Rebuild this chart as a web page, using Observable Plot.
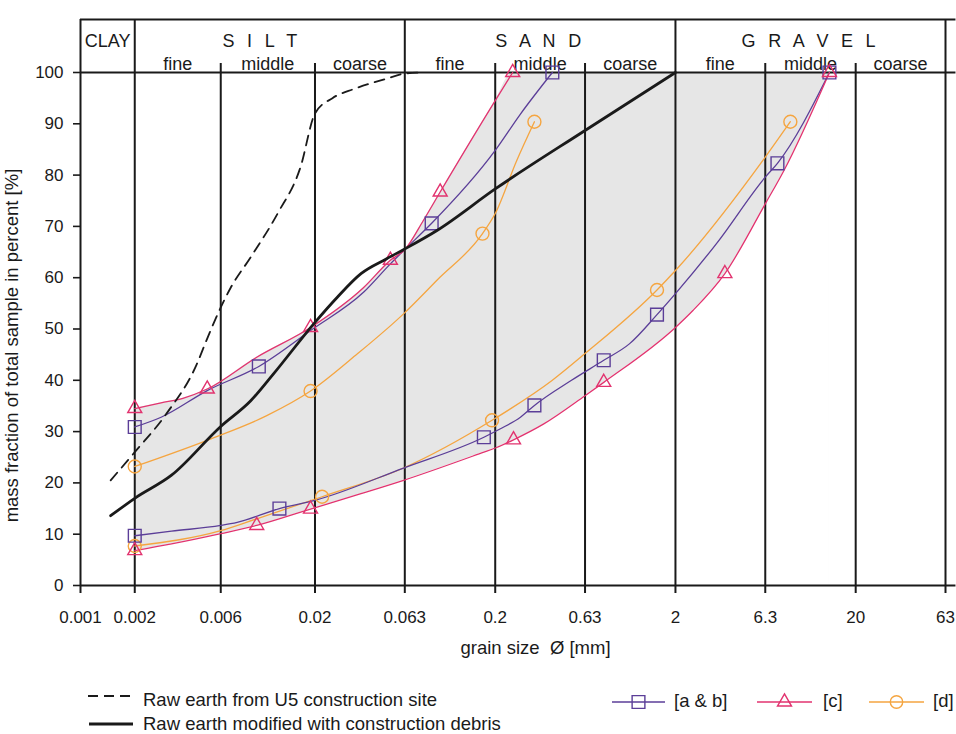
<!DOCTYPE html>
<html><head><meta charset="utf-8">
<script src="https://cdn.jsdelivr.net/npm/d3@7"></script>
<script src="https://cdn.jsdelivr.net/npm/@observablehq/plot@0.6"></script>
<style>
body{margin:0;background:#fff;font-family:"Liberation Sans",Arial,sans-serif;}
#wrap{position:relative;width:956px;height:734px;overflow:hidden;background:#fff;}
</style></head><body><div id="wrap"></div>
<script>
// ---------- data ----------
const xTicks = [0.001, 0.002, 0.006, 0.02, 0.063, 0.2, 0.63, 2, 6.3, 20, 63];
const xTickLabels = ["0.001", "0.002", "0.006", "0.02", "0.063", "0.2", "0.63", "2", "6.3", "20", "63"];
const yTicks = [0, 10, 20, 30, 40, 50, 60, 70, 80, 90, 100];
const majorBounds = [0.001, 0.002, 0.063, 2, 63];
const minorBounds = [0.006, 0.02, 0.2, 0.63, 6.3, 20];
const mainClasses = ["CLAY", "S I L T", "S A N D", "G R A V E L"];
const mainBounds = [0.001, 0.002, 0.063, 2, 63];
const subClasses = ["fine", "middle", "coarse"];
const subBounds = [0.002, 0.006, 0.02, 0.063, 0.2, 0.63, 2, 6.3, 20, 63];

const yTitle = "mass fraction of total sample in percent [%]";
const xTitle = "grain size\u00a0 Ø [mm]";
const lineLabels = ["Raw earth from U5 construction site", "Raw earth modified with construction debris"];
const sampleLabels = ["[a & b]", "[c]", "[d]"];

// Raw earth from U5 construction site (dashed)
const u5Size = [0.00147, 0.002, 0.003, 0.0044, 0.005, 0.006, 0.0068, 0.0088, 0.0124, 0.0166, 0.02, 0.025, 0.033, 0.05, 0.063, 0.08];
const u5Pct  = [20.5, 26, 33.5, 43, 47.8, 54.2, 58, 64, 72.5, 81.5, 92, 95, 96.8, 98.8, 99.8, 100];
// Raw earth modified with construction debris (solid)
const modSize = [0.00147, 0.002, 0.0032, 0.006, 0.0088, 0.0118, 0.02, 0.0266, 0.036, 0.05, 0.063, 0.095, 0.2, 0.63, 2];
const modPct  = [13.6, 17, 21.5, 31, 36, 41.3, 51.3, 56.2, 60.8, 63.7, 65.6, 69.2, 77.3, 88.7, 100];

// [a & b] fine limit / coarse limit
const abUpSize = [0.002, 0.0028, 0.00505, 0.00976, 0.0189, 0.0373, 0.0524, 0.0635, 0.0888, 0.2, 0.276, 0.415];
const abUpPct  = [30.9, 32.8, 38, 42.7, 49.7, 57.2, 62.7, 65.6, 70.6, 84.8, 91.9, 100];
const abUpMarks = [0, 3, 8, 11];
const abLoSize = [0.002, 0.0032, 0.006, 0.0074, 0.0127, 0.02, 0.062, 0.173, 0.2125, 0.276, 0.33, 0.53, 0.8, 1.11, 1.58, 2, 3.42, 6.3, 7.36, 14.3];
const abLoPct  = [9.7, 10.6, 11.7, 12.3, 15, 16.6, 22.9, 28.9, 30.5, 32.8, 35.1, 40, 43.9, 47.1, 52.8, 56.9, 66.9, 79.6, 82.3, 100];
const abLoMarks = [0, 4, 7, 10, 12, 14, 18, 19];

// [c] fine limit / coarse limit
const cUpSize = [0.002, 0.0028, 0.0037, 0.00505, 0.0095, 0.0189, 0.037, 0.0524, 0.0635, 0.08, 0.099, 0.2, 0.25];
const cUpPct  = [34.5, 35.6, 36.5, 38.3, 44.5, 50.3, 58, 63.4, 65.6, 71.2, 76.7, 94.5, 100];
const cUpMarks = [0, 3, 5, 7, 10, 12];
const cLoSize = [0.002, 0.0032, 0.006, 0.0095, 0.0189, 0.036, 0.062, 0.173, 0.2, 0.2526, 0.372, 0.63, 0.8, 2, 2.5, 3.76, 6.3, 8, 14.3];
const cLoPct  = [6.8, 8.1, 10.1, 11.7, 14.9, 17.9, 20.5, 26, 26.8, 28.4, 31.5, 37, 39.6, 50.3, 53.6, 60.8, 74.4, 80.9, 100];
const cLoMarks = [0, 3, 4, 9, 12, 15, 18];

// [d] fine limit / coarse limit
const dUpSize = [0.002, 0.0053, 0.0108, 0.0189, 0.0345, 0.0622, 0.095, 0.17, 0.2, 0.263, 0.33];
const dUpPct  = [23.2, 28.6, 33.1, 37.9, 45.2, 53, 59.5, 68.6, 72.5, 82.8, 90.4];
const dUpMarks = [0, 3, 7, 10];
const dLoSize = [0.002, 0.006, 0.0095, 0.0219, 0.062, 0.192, 0.415, 0.63, 1.58, 2, 6.3, 8.68];
const dLoPct  = [7.7, 10.7, 13, 17.3, 22.9, 32.2, 40, 45.2, 57.6, 61.4, 83.5, 90.4];
const dLoMarks = [0, 3, 5, 8, 11];

// ---------- style ----------
const PURPLE = "#5b3e98", PINK = "#e2336f", ORANGE = "#f5a540", INK = "#1a1a1a", GRAY = "#e6e6e6";

// ---------- layout ----------
const W = 956, H = 670, ML = 80, MR = 11, MT = 19, MB = 85;
const yTop = 110.33;
const yAt = px => (H - MB - px) * yTop / (H - MB - MT);

const rows = (s, p) => s.map((v, i) => ({size: v, pct: p[i]}));
const pick = (r, idx) => idx.map(i => r[i]);

const U5 = rows(u5Size, u5Pct), MOD = rows(modSize, modPct);
const ABU = rows(abUpSize, abUpPct), ABL = rows(abLoSize, abLoPct);
const CU = rows(cUpSize, cUpPct), CL = rows(cLoSize, cLoPct);
const DU = rows(dUpSize, dUpPct), DL = rows(dLoSize, dLoPct);
const envUpper = [...CU, CL[CL.length - 1]];
const xTickRows = xTicks.map((v, i) => ({x: v, label: xTickLabels[i]}));

const mainRows = mainClasses.map((t, i) => ({label: t, x: Math.sqrt(mainBounds[i] * mainBounds[i + 1])}));
const subRows = [];
for (let k = 0; k < 3; k++) for (let j = 0; j < 3; j++) {
  const lo = subBounds[k * 3 + j], hi = subBounds[k * 3 + j + 1];
  subRows.push({label: subClasses[j], x: Math.sqrt(lo * hi)});
}

const curve = "monotone-x";
const lineOpt = (c) => ({x: "size", y: "pct", stroke: c, strokeWidth: 1.3, curve});
const dotOpt = (c, sym, r) => ({x: "size", y: "pct", stroke: c, fill: "none", strokeWidth: 1.4, symbol: sym, r});

const chart = Plot.plot({
  width: W, height: H,
  marginLeft: ML, marginRight: MR, marginTop: MT, marginBottom: MB,
  style: {fontFamily: "'Liberation Sans', Arial, sans-serif", fontSize: "17px", color: INK, background: "white", overflow: "visible"},
  x: {type: "log", domain: [0.001, 63], axis: null},
  y: {domain: [0, yTop]},
  marks: [
    // envelope fill
    Plot.areaY(envUpper, {x: "size", y: "pct", fill: GRAY, curve}),
    Plot.areaY(CL, {x: "size", y: "pct", fill: "white", curve}),
    // grid / frame
    Plot.ruleX(xTicks, {y1: yAt(593), y2: 0, stroke: INK, strokeWidth: 2}),
    Plot.ruleX(minorBounds, {y1: 0, y2: yAt(63), stroke: INK, strokeWidth: 2}),
    Plot.ruleX(majorBounds, {y1: 0, y2: yTop, stroke: INK, strokeWidth: 2}),
    Plot.ruleY([yTop, 100, 0], {x1: 0.001, x2: 72, stroke: INK, strokeWidth: 2}),
    Plot.text(xTickRows, {x: "x", text: "label", frameAnchor: "bottom", lineAnchor: "bottom", dy: 37, fontSize: 17, fill: INK}),
    Plot.axisY({ticks: yTicks, tickSize: 7, tickPadding: 10, strokeWidth: 1.6, label: null, fontSize: 17}),
    // header labels
    Plot.text(mainRows, {x: "x", y: yAt(46), text: "label", lineAnchor: "bottom", fontSize: 18, fill: INK}),
    Plot.text(subRows, {x: "x", y: yAt(69), text: "label", lineAnchor: "bottom", fontSize: 18, fill: INK}),
    // titles
    Plot.text([yTitle], {text: d => d, frameAnchor: "left", textAnchor: "middle", lineAnchor: "middle", rotate: -90, dx: -68, dy: 43, fontSize: 18.5, fill: INK}),
    Plot.text([xTitle], {text: d => d, frameAnchor: "bottom", textAnchor: "middle", lineAnchor: "bottom", dx: 22.5, dy: 68, fontSize: 18.5, fill: INK}),
    // sample curves
    Plot.line(DU, lineOpt(ORANGE)), Plot.line(DL, lineOpt(ORANGE)),
    Plot.line(ABU, lineOpt(PURPLE)), Plot.line(ABL, lineOpt(PURPLE)),
    Plot.line(CU, lineOpt(PINK)), Plot.line(CL, lineOpt(PINK)),
    Plot.dot(pick(DU, dUpMarks), dotOpt(ORANGE, "circle", 6.5)),
    Plot.dot(pick(DL, dLoMarks), dotOpt(ORANGE, "circle", 6.5)),
    Plot.dot(pick(ABU, abUpMarks), dotOpt(PURPLE, "square", 7.2)),
    Plot.dot(pick(ABL, abLoMarks), dotOpt(PURPLE, "square", 7.2)),
    Plot.dot(pick(CU, cUpMarks), dotOpt(PINK, "triangle", 5.2)),
    Plot.dot(pick(CL, cLoMarks), dotOpt(PINK, "triangle", 5.2)),
    // raw earth curves
    Plot.line(U5, {x: "size", y: "pct", stroke: INK, strokeWidth: 1.8, strokeDasharray: "10,7", curve}),
    Plot.line(MOD, {x: "size", y: "pct", stroke: INK, strokeWidth: 2.8, curve})
  ]
});
document.getElementById("wrap").appendChild(chart);

// spaced header letters
d3.select(chart).selectAll("text").each(function () {
  const t = this.textContent;
  if (mainClasses.slice(1).includes(t)) {
    d3.select(this).style("letter-spacing", "3.8px");
    if (t === "S I L T") d3.select(this).attr("dx", -8);
  }
});

// ---------- legend (below the plot) ----------
const lg = d3.select("#wrap").append("svg")
  .attr("width", W).attr("height", 734 - H)
  .style("position", "absolute").style("left", "0px").style("top", H + "px")
  .style("font-family", "'Liberation Sans', Arial, sans-serif").style("font-size", "18.5px");
const T = y => y - H;
lg.append("line").attr("x1", 88).attr("x2", 133).attr("y1", T(696)).attr("y2", T(696))
  .attr("stroke", INK).attr("stroke-width", 1.8).attr("stroke-dasharray", "10,6");
lg.append("text").attr("x", 143).attr("y", T(706)).attr("fill", INK).text(lineLabels[0]);
lg.append("line").attr("x1", 89).attr("x2", 133).attr("y1", T(724)).attr("y2", T(724))
  .attr("stroke", INK).attr("stroke-width", 2.8);
lg.append("text").attr("x", 143).attr("y", T(729.5)).attr("fill", INK).text(lineLabels[1]);

const items = [
  {c: PURPLE, sym: d3.symbolSquare, r: 7.2, x0: 612, x1: 665, tx: 674},
  {c: PINK, sym: d3.symbolTriangle, r: 5.2, x0: 757, x1: 812, tx: 823},
  {c: ORANGE, sym: d3.symbolCircle, r: 6.2, x0: 869, x1: 924, tx: 933}
];
items.forEach((it, i) => {
  const cy = T(702);
  lg.append("line").attr("x1", it.x0).attr("x2", it.x1).attr("y1", cy).attr("y2", cy)
    .attr("stroke", it.c).attr("stroke-width", 1.3);
  lg.append("path").attr("d", d3.symbol(it.sym, Math.PI * it.r * it.r)())
    .attr("transform", `translate(${(it.x0 + it.x1) / 2},${cy})`)
    .attr("fill", "none").attr("stroke", it.c).attr("stroke-width", 1.4);
  lg.append("text").attr("x", it.tx).attr("y", T(707)).attr("fill", INK).text(sampleLabels[i]);
});
</script></body></html>
